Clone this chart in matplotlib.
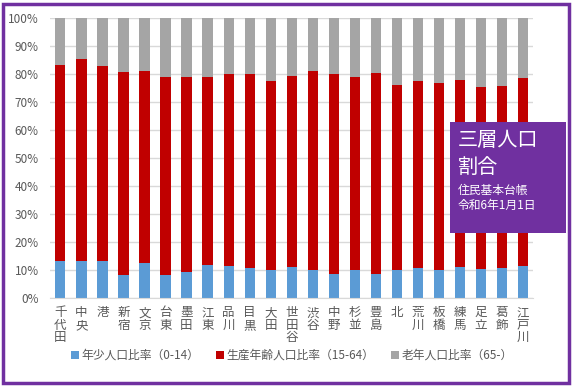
import numpy as np
import matplotlib.pyplot as plt
from matplotlib.patches import Rectangle

plt.rcParams['font.family'] = ['Noto Sans CJK JP', 'DejaVu Sans']

wards = ["千代田", "中央", "港", "新宿", "文京", "台東", "墨田", "江東", "品川", "目黒",
         "大田", "世田谷", "渋谷", "中野", "杉並", "豊島", "北", "荒川", "板橋", "練馬",
         "足立", "葛飾", "江戸川"]
# 年少 (0-14) share, %
young = [13.2, 13.2, 13.2, 8.2, 12.5, 8.2, 9.3, 11.8, 11.4, 10.7,
         10.0, 11.1, 10.0, 8.6, 10.0, 8.6, 10.0, 10.7, 10.0, 11.1,
         10.4, 10.7, 11.4]
# 年少 + 生産年齢 cumulative, %
upper = [83.2, 85.4, 82.9, 80.8, 81.2, 78.9, 78.9, 78.9, 80.0, 80.0,
         77.5, 79.3, 81.1, 80.0, 78.9, 80.4, 76.1, 77.5, 76.8, 77.9,
         75.4, 75.7, 78.6]
working = [u - y for u, y in zip(upper, young)]
elderly = [100 - u for u in upper]

labels = ["年少人口比率（0-14）", "生産年齢人口比率（15-64）", "老年人口比率（65-）"]
colors = ["#5B9BD5", "#C00000", "#A5A5A5"]

fig = plt.figure(figsize=(5.74, 3.87), dpi=100)
ax = fig.add_axes([0.087, 0.23, 0.842, 0.723])

x = np.arange(len(wards))
w = 0.48
ax.bar(x, young, w, color=colors[0], label=labels[0], zorder=2)
ax.bar(x, working, w, bottom=young, color=colors[1], label=labels[1], zorder=2)
ax.bar(x, elderly, w, bottom=upper, color=colors[2], label=labels[2], zorder=2)

ax.set_xlim(-0.5, len(wards) - 0.5)
ax.set_ylim(0, 100)
ax.set_yticks(np.arange(0, 101, 10))
ax.set_yticklabels([f"{v}%" for v in range(0, 101, 10)], fontsize=8.5, color="#595959")
ax.set_xticks(x)
ax.set_xticklabels(["\n".join(n) for n in wards], fontsize=9, color="#595959",
                   linespacing=0.95, va="top")
ax.tick_params(axis="both", length=0)
ax.tick_params(axis="y", pad=8)
ax.tick_params(axis="x", pad=6)
ax.yaxis.grid(True, color="#D9D9D9", linewidth=1, zorder=0)
for s in ["top", "right", "left"]:
    ax.spines[s].set_visible(False)
ax.spines["bottom"].set_color("#D9D9D9")

leg = ax.legend(loc="center", bbox_to_anchor=(0.5, -0.205), ncol=3, frameon=False,
                fontsize=8.5, handlelength=0.7, handleheight=0.7, handletextpad=0.2,
                columnspacing=1.4, borderaxespad=0)
for t in leg.get_texts():
    t.set_color("#595959")

# info box
fig.patches.append(Rectangle((450 / 574, 1 - 233 / 387), 116 / 574, 111 / 387,
                             transform=fig.transFigure, facecolor="#7030A0",
                             edgecolor="none", zorder=5))
fig.text(458 / 574, 1 - 141 / 387, "三層人口", color="white", fontsize=14.5,
         va="center", ha="left", zorder=6)
fig.text(458 / 574, 1 - 167 / 387, "割合", color="white", fontsize=14.5,
         va="center", ha="left", zorder=6)
fig.text(458 / 574, 1 - 190 / 387, "住民基本台帳", color="white", fontsize=8.5,
         va="center", ha="left", zorder=6)
fig.text(458 / 574, 1 - 205 / 387, "令和6年1月1日", color="white", fontsize=8.5,
         va="center", ha="left", zorder=6)

# purple frame
fig.patches.append(Rectangle((3 / 574, 4 / 387), 566 / 574, 379 / 387,
                             transform=fig.transFigure, facecolor="none",
                             edgecolor="#7030A0", linewidth=2.5, zorder=10))

fig.savefig("out.png", dpi=100)
